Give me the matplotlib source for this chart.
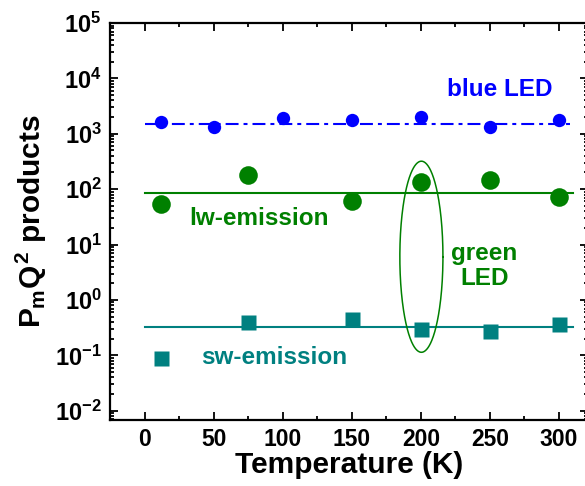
import numpy as np
import matplotlib
matplotlib.use("Agg")
import matplotlib.pyplot as plt
from matplotlib.ticker import FuncFormatter, LogLocator, MultipleLocator

# ---- fonts (Arial-like bold everywhere) ----
plt.rcParams['font.family'] = ['Liberation Sans', 'DejaVu Sans']
plt.rcParams['font.weight'] = 'bold'
plt.rcParams['mathtext.fontset'] = 'custom'
plt.rcParams['mathtext.rm'] = 'Liberation Sans:bold'
plt.rcParams['mathtext.it'] = 'Liberation Sans:bold'
plt.rcParams['mathtext.bf'] = 'Liberation Sans:bold'

# ---- data ----
T_blue = [12, 50, 100, 150, 200, 250, 300]
blue_led = [1650, 1340, 1950, 1790, 2030, 1340, 1790]

T_green = [12, 75, 150, 200, 250, 300]
lw_emission = [54, 180, 61, 134, 146, 72]
sw_emission = [0.088, 0.40, 0.45, 0.30, 0.27, 0.37]

# horizontal averages
fit_T = [0, 310]
blue_avg = 1520
lw_avg = 87
sw_avg = 0.33

c_blue = '#0000FF'
c_green = '#008000'
c_teal = '#008080'

fig = plt.figure(figsize=(5.85, 4.86), dpi=100)
ax = fig.add_axes([110/585, 1 - 420/486, (588 - 110)/585, (420 - 23)/486])

# fit lines
ax.plot(fit_T, [blue_avg, blue_avg], color=c_blue, lw=1.5,
        linestyle=(0, (6.2, 2.4, 1.9, 2.4)))
ax.plot(fit_T, [lw_avg, lw_avg], color=c_green, lw=1.5)
ax.plot(fit_T, [sw_avg, sw_avg], color=c_teal, lw=1.5)

# data points
ax.plot(T_blue, blue_led, 'o', color=c_blue, ms=9.6, mec='none')
ax.plot(T_green, lw_emission, 'o', color=c_green, ms=13.4, mec='none')
ax.plot(T_green, sw_emission, 's', color=c_teal, ms=10.8, mec='none')

# ellipse around the 200 K points (drawn in log space)
th = np.linspace(0, 2*np.pi, 300)
ax.plot(200.4 + 15.6*np.cos(th), 10**(0.78 + 1.725*np.sin(th)),
        color=c_green, lw=1.1)

# labels inside the plot
ax.text(257, 6200, 'blue LED', color=c_blue, fontsize=17.5,
        fontweight='bold', ha='center', va='center')
ax.text(83, 29, 'lw-emission', color=c_green, fontsize=17.5,
        fontweight='bold', ha='center', va='center')
ax.text(246, 4.1, 'green\nLED', color=c_green, fontsize=17.5,
        fontweight='bold', ha='center', va='center', linespacing=1.15)
ax.text(93.5, 0.092, 'sw-emission', color=c_teal, fontsize=17.5,
        fontweight='bold', ha='center', va='center')

# axes
ax.set_yscale('log')
ax.set_xlim(-25, 321)
ax.set_ylim(0.0068, 1e5)
ax.xaxis.set_major_locator(MultipleLocator(50))
ax.xaxis.set_minor_locator(MultipleLocator(25))
ax.yaxis.set_major_locator(LogLocator(base=10, numticks=20))
ax.yaxis.set_minor_locator(LogLocator(base=10, subs=np.arange(2, 10), numticks=20))
ax.yaxis.set_major_formatter(FuncFormatter(lambda v, p: r'$10^{%d}$' % round(np.log10(v))))

ax.tick_params(which='both', direction='in', top=True, right=True, width=1.3)
ax.tick_params(which='major', length=5.5, labelsize=16.5, pad=6)
ax.tick_params(axis='y', which='major', labelsize=17)
ax.tick_params(which='minor', length=3)
for sp in ax.spines.values():
    sp.set_linewidth(1.6)

ax.set_xlabel('Temperature (K)', fontsize=21.5, fontweight='bold', labelpad=0)
ax.set_ylabel(r'$P_{m}Q^{2}$ products', fontsize=21.5, fontweight='bold', labelpad=4)

fig.savefig('out.png', dpi=100)
